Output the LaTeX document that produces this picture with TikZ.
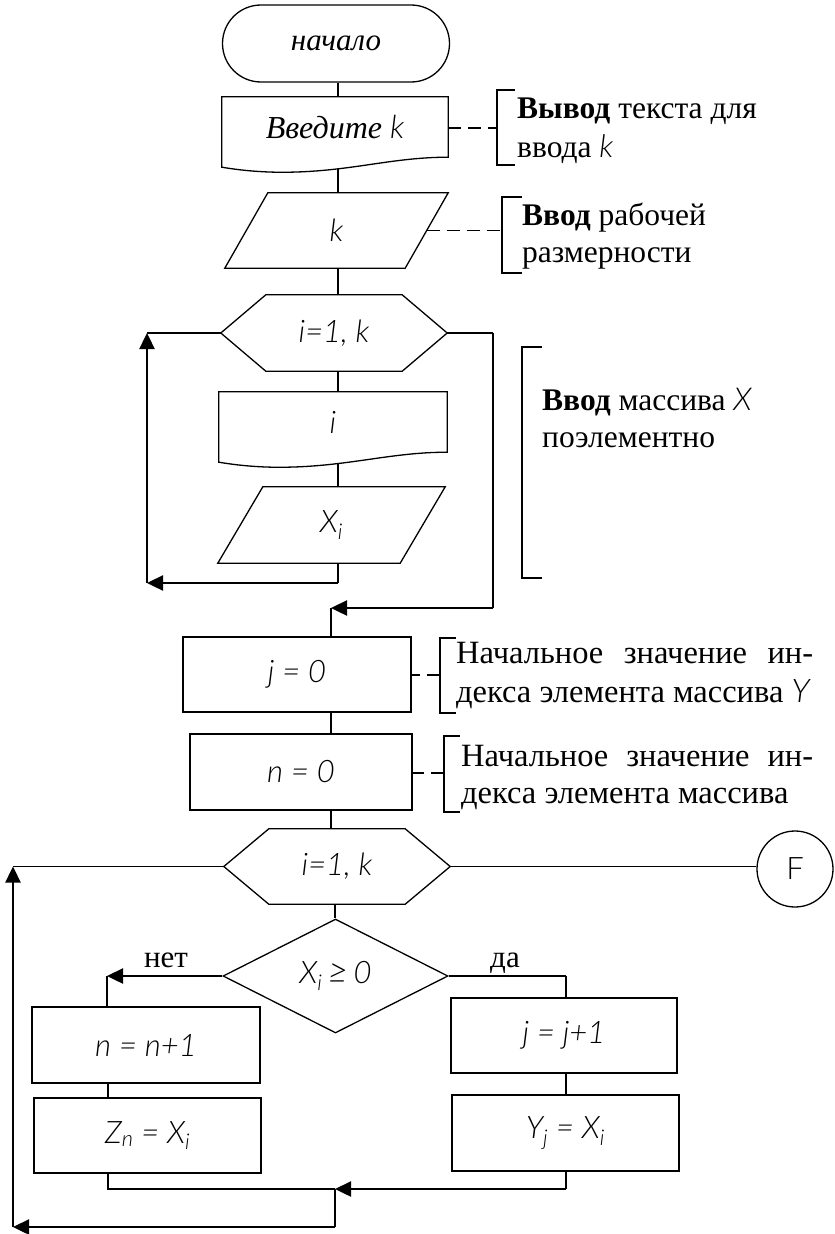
\documentclass[tikz,border=0pt]{standalone}
\usepackage{fontspec}
\setmainfont{Liberation Serif}
\newfontfamily\fm{Lato Light Italic}
\newfontfamily\fmup{Lato Light}
\usetikzlibrary{arrows.meta,shapes.geometric,calc}

% outline of a "document" block: straight top and sides, wavy bottom
\newcommand\docshape[1]{%
  \draw[ln] (#1.south west) -- ([yshift=-10pt]#1.south west) .. controls ([xshift=12pt,yshift=-12pt]#1.south west) and ([xshift=30pt,yshift=-14.5pt]#1.south west) .. ([xshift=54pt,yshift=-15pt]#1.south west)
     .. controls ([xshift=125pt,yshift=-16pt]#1.south west) and ([xshift=-60pt]#1.south east) .. (#1.south east)
     -- (#1.north east) -- (#1.north west) -- cycle;}
% parallelogram (input block), #2 = horizontal slant
\newcommand\parashape[2]{%
  \draw[ln] ([xshift=#2]#1.north west) -- (#1.north east) -- ([xshift=-#2]#1.south east) -- (#1.south west) -- cycle;}
% hexagon (loop header), #2 = chamfer
\newcommand\hexshape[2]{%
  \draw[ln] (#1.west) -- ([xshift=#2]#1.north west) -- ([xshift=-#2]#1.north east) -- (#1.east)
     -- ([xshift=-#2]#1.south east) -- ([xshift=#2]#1.south west) -- cycle;}
% annotation bracket "[" at x=#1 from y=#2 to y=#3 with ticks to x=#4
\newcommand\bracket[4]{\draw[ln] (#4,#2) -- (#1,#2) -- (#1,#3) -- (#4,#3);}

\begin{document}
\begin{tikzpicture}[x=1pt,y=-1pt,
  ln/.style={line width=1.3pt},
  tk/.style={line width=2.4pt},
  arr/.style={-{Triangle[length=16pt,width=15pt]}},
  dsh/.style={line width=1.3pt, dash pattern=on 13pt off 7pt},
  formula/.style={inner sep=0pt, font=\fm\fontsize{31}{36}\selectfont},
  frame/.style={formula, draw=none},
  proc/.style={formula, draw, line width=1.3pt},
  note/.style={inner sep=0pt, anchor=base west, font=\fontsize{31.5}{38}\selectfont},
  bignote/.style={note, font=\fontsize{32.5}{38}\selectfont},
  lbl/.style={inner sep=0pt, anchor=base, font=\fontsize{31}{36}\selectfont}]

\fill[white] (0,0) rectangle (835,1234);
\useasboundingbox (0,0) rectangle (835,1234);

% connector columns
\coordinate (c1) at (338,0);
\coordinate (c2) at (331,0);
\coordinate (c3) at (335,0);
\coordinate (c4) at (566,0);
\coordinate (c5) at (108,0);

% ---------- upper part ----------
\node[draw, line width=1.3pt, rounded corners=38.5pt, minimum width=227pt, minimum height=77pt, inner sep=0pt,
      font=\itshape\fontsize{31}{36}\selectfont] (start) at (336,43.5) {начало};
\node[frame, minimum width=226pt, minimum height=60pt, font=\fontsize{32}{36}\selectfont] (doc1) at (335,127) {\textit{Введите} {\fm k}};
\docshape{doc1}
\node[frame, minimum width=223pt, minimum height=75pt] (par1) at (336.5,230.5) {k};
\parashape{par1}{43pt}

\node[frame, minimum width=226pt, minimum height=76pt] (hex1) at (334,333) {i=1, k};
\hexshape{hex1}{45pt}
\node[frame, minimum width=228pt, minimum height=60pt] (doc2) at (333,422) {i};
\docshape{doc2}
\node[frame, minimum width=227pt, minimum height=76pt] (par2) at (331.5,525) {X\textsubscript{i}};
\parashape{par2}{45pt}

\draw[ln] (start.south -| c1) -- (doc1.north -| c1);
\draw[ln] ([yshift=-12pt]doc1.south -| c1) -- (par1.north -| c1);
\draw[ln] (par1.south -| c1) -- (hex1.north -| c1);
\draw[ln] (hex1.south -| c1) -- (doc2.north -| c1);
\draw[ln] ([yshift=-11pt]doc2.south -| c1) -- (par2.north -| c1);

% body of the first loop returns to its header
\coordinate (l1) at (147,583);
\draw[ln] (par2.south -| c1) -- (c1 |- l1);
\draw[tk,arr] (c1 |- l1) -- (l1);
\draw[tk,arr] (l1) -- (l1 |- hex1.west);
\draw[ln] (l1 |- hex1.west) -- (hex1.west);

% exit of the first loop
\coordinate (r1) at (493,608);
\draw[ln] (hex1.east) -- (r1 |- hex1.east);
\draw[tk] (r1 |- hex1.east) -- (r1);
\draw[tk,arr] (r1) -- (c2 |- r1);

% ---------- initial values ----------
\node[proc, minimum width=228pt, minimum height=75pt] (jbox) at (297,674.5) {j = 0};
\node[proc, minimum width=222pt, minimum height=76pt] (nbox) at (301,772) {n = 0};
\draw[ln] (c2 |- r1) -- (jbox.north -| c2);
\draw[ln] (jbox.south -| c2) -- (nbox.north -| c2);

% ---------- second loop ----------
\node[frame, minimum width=226pt, minimum height=75pt] (hex2) at (337,866.5) {i=1, k};
\hexshape{hex2}{45pt}
\node[diamond, draw, line width=1.3pt, inner sep=0pt, minimum width=225pt, minimum height=114pt,
      font=\fm\fontsize{31}{36}\selectfont] (cond) at (335.5,976) {X\textsubscript{i}\,{\fontsize{36}{36}\selectfont ≥}\,0};
\node[circle, draw, line width=1.3pt, minimum size=76pt, inner sep=0pt, font=\fmup\fontsize{31}{36}\selectfont] (F) at (795,869) {F};

\draw[ln] (nbox.south -| c2) -- (hex2.north -| c2);
\draw[ln] (hex2.south -| c3) -- (cond.north -| c3);
\draw[ln] (hex2.east) -- (hex2.east -| F.west);

\node[proc, minimum width=228pt, minimum height=76pt] (nplus) at (146,1045) {n = n+1};
\node[proc, minimum width=227pt, minimum height=75pt] (zbox) at (147.5,1135.5) {Z\textsubscript{n} = X\textsubscript{i}};
\node[proc, minimum width=226pt, minimum height=75pt] (jplus) at (564,1035.5) {j = j+1};
\node[proc, minimum width=227pt, minimum height=76pt] (ybox) at (565.5,1133) {Y\textsubscript{j} = X\textsubscript{i}};

% branches
\coordinate (no) at (107,976);
\draw[tk,arr] (cond.west) -- (no);
\draw[ln] (no) -- (nplus.north -| no);
\node[lbl] (nolbl) at (166,967) {нет};
\draw[tk] (cond.east) -- (cond.east -| c4);
\draw[ln] (cond.east -| c4) -- (jplus.north -| c4);
\node[lbl] (yeslbl) at (505,967) {да};
\draw[ln] (nplus.south -| c5) -- (zbox.north -| c5);
\draw[ln] (jplus.south -| c4) -- (ybox.north -| c4);

% merge and return to the loop header
\coordinate (m) at (335,1189);
\coordinate (l2) at (13,1227);
\draw[ln] (zbox.south -| c5) -- (c5 |- m) -- (m);
\draw[ln] (ybox.south -| c4) -- (c4 |- m);
\draw[tk,arr] (c4 |- m) -- (m);
\draw[tk] (m) -- (m |- l2);
\draw[tk,arr] (m |- l2) -- (l2);
\draw[tk,arr] (l2) -- (l2 |- hex2.west);
\draw[ln] (l2 |- hex2.west) -- (hex2.west);

% ---------- annotations ----------
\bracket{497}{90}{165}{515}
\coordinate (b1) at (497,128);
\draw[dsh] (doc1.east |- b1) -- (b1);
\node[note] (n1a) at (517,118) {\textbf{Вывод} текста для};
\node[note] (n1b) at (517,157) {ввода {\fm k}};

\bracket{502}{197}{273}{522}
\coordinate (p1e) at ($(par1.north east)!0.5!([xshift=-43pt]par1.south east)$);
\draw[dsh] (p1e) -- (p1e -| 502,0);
\node[note] (n2a) at (522,225) {\textbf{Ввод} рабочей};
\node[note] (n2b) at (522,262) {размерности};

\bracket{522}{347}{578}{542}
\node[note] (n3a) at (542,410) {\textbf{Ввод} массива {\fm X}};
\node[note] (n3b) at (542,447) {поэлементно};

% justified two-line notes: the first line is stretched to the full width
\bracket{440}{638}{713}{456}
\coordinate (b4) at (440,675);
\draw[dsh] (b4) -- (jbox.east |- b4);
\node[bignote] (n4a) at (456,663) {\makebox[357pt][s]{Начальное значение ин-}};
\node[bignote] (n4b) at (456,702) {декса элемента массива {\fm Y}};

\bracket{444}{736}{812}{460}
\coordinate (b5) at (444,773);
\draw[dsh] (b5) -- (nbox.east |- b5);
\node[bignote] (n5a) at (461,766) {\makebox[352pt][s]{Начальное значение ин-}};
\node[bignote] (n5b) at (461,803) {декса элемента массива};
\end{tikzpicture}
\end{document}
